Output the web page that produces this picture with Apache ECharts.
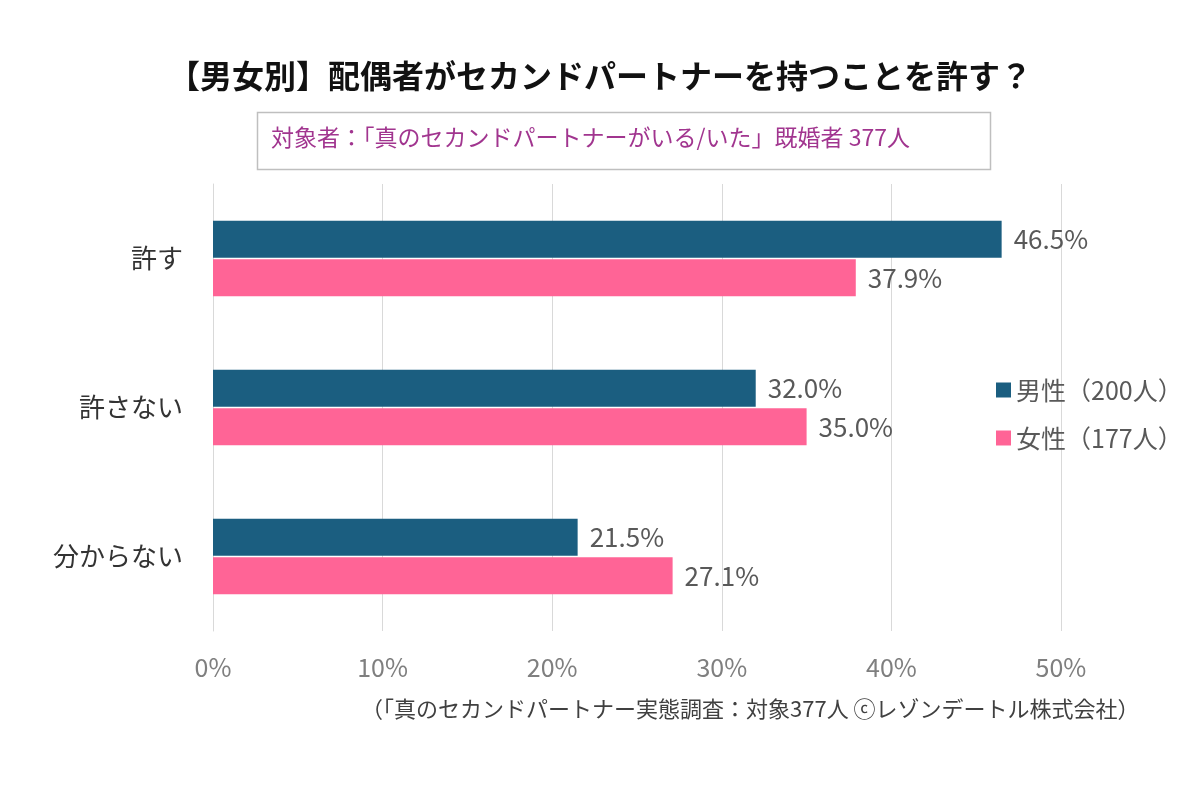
<!DOCTYPE html>
<html><head><meta charset="utf-8">
<script src="https://cdn.jsdelivr.net/npm/echarts@6/dist/echarts.min.js"></script>
<style>html,body{margin:0;padding:0;background:#fff}#c{width:1200px;height:800px}</style>
</head><body><div id="c"></div>
<script>
const categories = ['許す', '許さない', '分からない'];
const maleValues = [46.5, 32.0, 21.5];
const femaleValues = [37.9, 35.0, 27.1];
const seriesNames = ['男性（200人）', '女性（177人）'];
const xTicks = [0, 10, 20, 30, 40, 50];

const FONT = '"Noto Sans CJK JP", "Noto Sans", sans-serif';
const chart = echarts.init(document.getElementById('c'));
chart.setOption({
  backgroundColor: '#fff',
  textStyle: { fontFamily: FONT },
  graphic: [
    { type: 'rect', left: 255, top: 110, shape: { width: 733, height: 57 },
      style: { fill: 'none', stroke: '#bfbfbf', lineWidth: 1.5 }, silent: true }
  ],
  title: [
    { text: '【男女別】配偶者がセカンドパートナーを持つことを許す？', left: 'center', top: 55,
      textStyle: { fontSize: 32, fontWeight: 'bold', color: '#111', fontFamily: FONT } },
    { text: '対象者：「真のセカンドパートナーがいる/いた」既婚者 377人', left: 266, top: 121,
      textStyle: { fontSize: 23, fontWeight: 'normal', color: '#a1358f', fontFamily: FONT } },
    { text: '（「真のセカンドパートナー実態調査：対象377人 ⓒレゾンデートル株式会社）', left: 356, top: 693,
      textStyle: { fontSize: 22, fontWeight: 'normal', color: '#404040', fontFamily: FONT } }
  ],
  legend: {
    orient: 'vertical', left: 991, top: 371, itemGap: 20, itemWidth: 15, itemHeight: 15, icon: 'rect',
    textStyle: { fontSize: 25, lineHeight: 28, color: '#595959', fontFamily: FONT },
    data: seriesNames
  },
  grid: { left: 213, right: 1200 - 1061, top: 184, bottom: 800 - 631, containLabel: false },
  xAxis: {
    type: 'value', min: 0, max: 50, interval: 10,
    axisLine: { show: false }, axisTick: { show: false },
    splitLine: { lineStyle: { color: '#d9d9d9', width: 1 } },
    axisLabel: { formatter: v => xTicks.includes(v) ? v + '%' : '', fontSize: 25, color: '#7f7f7f', margin: 24, fontFamily: FONT }
  },
  yAxis: {
    type: 'category', data: categories, inverse: true,
    axisLine: { show: true, lineStyle: { color: '#d9d9d9' } }, axisTick: { show: false },
    axisLabel: { fontSize: 26, color: '#333', margin: 30, fontFamily: FONT }
  },
  series: [
    { name: seriesNames[0], type: 'bar', data: maleValues, barWidth: 37, barGap: '4%',
      itemStyle: { color: '#1b5e80' },
      label: { show: true, position: 'right', distance: 12, formatter: p => p.value.toFixed(1) + '%', fontSize: 26, color: '#595959', fontFamily: FONT } },
    { name: seriesNames[1], type: 'bar', data: femaleValues, barWidth: 37, barGap: '4%',
      itemStyle: { color: '#ff6496' },
      label: { show: true, position: 'right', distance: 12, formatter: p => p.value.toFixed(1) + '%', fontSize: 26, color: '#595959', fontFamily: FONT } }
  ]
});
</script></body></html>
